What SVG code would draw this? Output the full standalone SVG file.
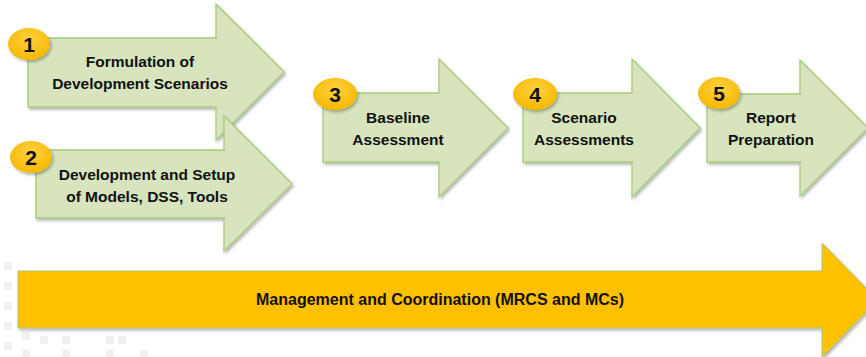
<svg xmlns="http://www.w3.org/2000/svg" width="866" height="357" viewBox="0 0 866 357">
<defs>
<filter id="sh" x="-10%" y="-10%" width="130%" height="130%">
<feDropShadow dx="1.5" dy="2" stdDeviation="1.5" flood-color="#000" flood-opacity="0.3"/>
</filter>
<radialGradient id="yg" cx="50%" cy="35%" r="65%">
<stop offset="0" stop-color="#FFD040"/>
<stop offset="1" stop-color="#F5B800"/>
</radialGradient>
<style>
.arr{fill:#D7E4BD;stroke:#A6CC78;stroke-width:1.3;filter:url(#sh)}
.big{fill:#FFC000;stroke:#A6CC78;stroke-width:1;filter:url(#sh)}
.bd{fill:url(#yg);filter:url(#sh)}
.t{font-family:"Liberation Sans",Arial,sans-serif;font-weight:bold;font-size:15.5px;fill:#111;text-anchor:middle}
.tb{font-size:16px}
.n{font-family:"Liberation Sans",Arial,sans-serif;font-weight:bold;font-size:21px;fill:#111;text-anchor:middle}
.wm{fill:#F0F0F0}
</style>
</defs>
<rect width="866" height="357" fill="#fff"/>
<g id="watermark">
<rect class="wm" x="4" y="262" width="8" height="8"/>
<rect class="wm" x="4" y="282" width="8" height="8"/>
<rect class="wm" x="4" y="302" width="8" height="8"/>
<rect class="wm" x="4" y="322" width="8" height="8"/>
<rect class="wm" x="4" y="342" width="8" height="8"/>
<rect class="wm" x="22" y="332" width="8" height="8"/>
<rect class="wm" x="40" y="336" width="8" height="8"/>
<rect class="wm" x="62" y="336" width="8" height="8"/>
<rect class="wm" x="106" y="336" width="8" height="8"/>
<rect class="wm" x="118" y="336" width="8" height="8"/>
<rect class="wm" x="22" y="350" width="8" height="7"/>
<rect class="wm" x="62" y="350" width="8" height="7"/>
<rect class="wm" x="106" y="350" width="8" height="7"/>
<rect class="wm" x="140" y="350" width="8" height="7"/>
</g>
<g id="node1">
<polygon class="arr" points="28,38 216,38 216,4 284,72 216,140 216,107 28,107"/>
<text class="t" x="140" y="67">Formulation of</text>
<text class="t" x="140" y="89">Development Scenarios</text>
<ellipse class="bd" cx="29" cy="44" rx="21" ry="16"/>
<text class="n" x="29" y="51.5">1</text>
</g>
<g id="node2">
<polygon class="arr" points="36,150 224,150 224,116 292,184 224,251 224,218 36,218"/>
<text class="t" x="147" y="180">Development and Setup</text>
<text class="t" x="147" y="202">of Models, DSS, Tools</text>
<ellipse class="bd" cx="31" cy="157" rx="21" ry="16"/>
<text class="n" x="31" y="164.5">2</text>
</g>
<g id="node3">
<polygon class="arr" points="323,93 439,93 439,59 508,128 439,197 439,162 323,162"/>
<text class="t" x="398" y="123">Baseline</text>
<text class="t" x="398" y="145">Assessment</text>
<ellipse class="bd" cx="335" cy="94" rx="22" ry="16"/>
<text class="n" x="335" y="101.5">3</text>
</g>
<g id="node4">
<polygon class="arr" points="523,93 632,93 632,59 700,128 632,197 632,162 523,162"/>
<text class="t" x="584" y="123">Scenario</text>
<text class="t" x="584" y="145">Assessments</text>
<ellipse class="bd" cx="535" cy="94" rx="22" ry="16"/>
<text class="n" x="535" y="101.5">4</text>
</g>
<g id="node5">
<polygon class="arr" points="707,94 800,94 800,60 868,128 800,196 800,162 707,162"/>
<text class="t" x="771" y="123">Report</text>
<text class="t" x="771" y="145">Preparation</text>
<ellipse class="bd" cx="719" cy="93" rx="21" ry="16"/>
<text class="n" x="719" y="100.5">5</text>
</g>
<g id="node6">
<polygon class="big" points="18,271 822,271 822,243 878,300 822,357 822,328 18,328"/>
<text class="t tb" x="440" y="305">Management and Coordination (MRCS and MCs)</text>
</g>
<g id="connectors"></g>
</svg>
